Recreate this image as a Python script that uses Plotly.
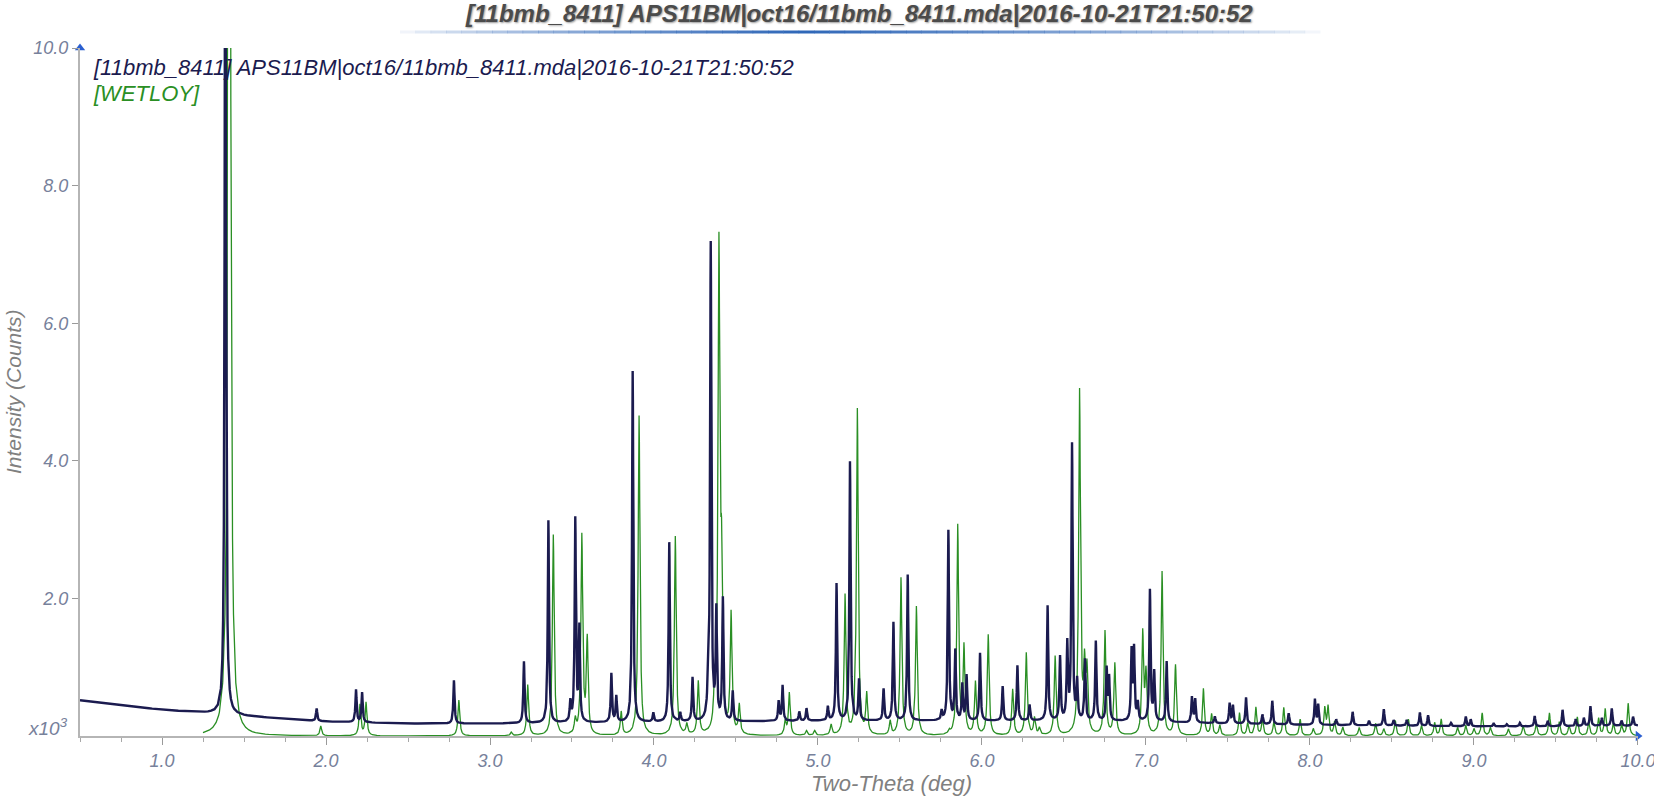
import numpy as np
import plotly.graph_objects as go

# ---------------- data (intensity in x10^3 counts) ----------------
obs_peak_pos = [1.386, 1.943, 2.183, 2.220, 2.780, 3.207, 3.356, 3.490, 3.520, 3.545,
                3.740, 3.770, 3.870, 3.996, 4.093, 4.160, 4.235, 4.330, 4.346, 4.380,
                4.420, 4.480, 4.760, 4.784, 4.886, 4.930, 5.060, 5.113, 5.195, 5.250,
                5.400, 5.460, 5.547, 5.754, 5.795, 5.837, 5.880, 5.906, 5.988, 6.126,
                6.216, 6.290, 6.400, 6.476, 6.520, 6.549, 6.580, 6.628, 6.694, 6.760,
                6.775, 6.912, 6.927, 6.950, 7.024, 7.050, 7.126, 7.280, 7.300, 7.420,
                7.510, 7.530, 7.610, 7.710, 7.770, 7.870, 8.030, 8.050, 8.160, 8.260,
                8.360, 8.450, 8.510, 8.590, 8.670, 8.720, 8.860, 8.950, 8.980, 9.120,
                9.200, 9.280, 9.370, 9.450, 9.540, 9.620, 9.670, 9.710, 9.780, 9.840,
                9.900, 9.970]
obs_peak_top = [14.0, 0.40, 0.67, 0.63, 0.81, 1.08, 3.13, 0.47, 3.14, 1.55,
                0.90, 0.57, 5.30, 0.33, 2.81, 0.33, 0.84, 0.70, 7.12, 1.78,
                1.98, 0.64, 0.50, 0.73, 0.35, 0.40, 0.42, 2.21, 3.98, 0.81,
                0.68, 1.65, 2.34, 0.35, 2.98, 1.23, 0.74, 0.87, 1.20, 0.72,
                1.02, 0.45, 1.89, 1.14, 1.31, 4.22, 0.77, 1.10, 1.37, 0.96,
                0.83, 1.21, 1.24, 0.46, 2.11, 0.91, 1.08, 0.56, 0.53, 0.28,
                0.47, 0.44, 0.56, 0.31, 0.51, 0.33, 0.53, 0.45, 0.24, 0.35,
                0.22, 0.39, 0.23, 0.23, 0.34, 0.30, 0.19, 0.28, 0.24, 0.18,
                0.17, 0.19, 0.29, 0.22, 0.38, 0.24, 0.26, 0.43, 0.26, 0.40,
                0.22, 0.28]

obs_bg_pos = [0.5, 0.7, 1.0, 1.3, 1.5, 1.8, 2.0, 2.5, 3.0, 3.5, 4.0, 4.5, 5.0,
              5.5, 6.0, 6.5, 7.0, 7.3, 7.5, 8.0, 8.5, 9.0, 9.5, 10.0]
obs_bg_val = [0.52, 0.46, 0.38, 0.33, 0.29, 0.24, 0.21, 0.18, 0.18, 0.19, 0.20, 0.21, 0.22,
              0.22, 0.22, 0.22, 0.21, 0.19, 0.18, 0.16, 0.15, 0.14, 0.14, 0.15]

calc_peak_pos = [1.410, 1.968, 2.207, 2.244, 2.810, 3.130, 3.230, 3.386, 3.520, 3.560,
                 3.593, 3.800, 3.909, 4.130, 4.200, 4.270, 4.370, 4.396, 4.412, 4.470,
                 4.520, 4.800, 4.825, 4.930, 4.980, 5.080, 5.165, 5.240, 5.297, 5.440,
                 5.506, 5.600, 5.800, 5.852, 5.890, 5.960, 6.038, 6.187, 6.270, 6.320,
                 6.350, 6.446, 6.595, 6.625, 6.640, 6.750, 6.810, 6.980, 7.000, 7.098,
                 7.180, 7.350, 7.400, 7.450, 7.570, 7.620, 7.670, 7.710, 7.780, 7.840,
                 7.940, 8.020, 8.090, 8.110, 8.150, 8.200, 8.300, 8.400, 8.450, 8.520,
                 8.600, 8.680, 8.760, 8.800, 8.900, 8.950, 9.000, 9.050, 9.100, 9.210,
                 9.300, 9.380, 9.460, 9.520, 9.580, 9.630, 9.700, 9.760, 9.800, 9.850,
                 9.900, 9.940]
calc_peak_top = [30.0, 0.14, 0.45, 0.48, 0.52, 0.05, 0.74, 2.92, 0.20, 2.89,
                 1.37, 0.34, 4.65, 2.89, 0.15, 0.77, 0.55, 6.97, 2.15, 1.74,
                 0.42, 0.20, 0.62, 0.07, 0.07, 0.15, 2.03, 4.74, 0.58, 0.20,
                 2.29, 1.87, 0.05, 3.04, 1.26, 0.77, 1.46, 0.67, 1.20, 0.25,
                 0.10, 1.15, 4.99, 0.90, 0.87, 1.51, 1.04, 1.47, 0.86, 2.38,
                 1.02, 0.68, 0.31, 0.15, 0.33, 0.18, 0.41, 0.24, 0.20, 0.41,
                 0.24, 0.10, 0.39, 0.41, 0.20, 0.12, 0.12, 0.18, 0.10, 0.22,
                 0.24, 0.15, 0.19, 0.24, 0.12, 0.15, 0.10, 0.33, 0.12, 0.10,
                 0.15, 0.18, 0.33, 0.20, 0.15, 0.27, 0.20, 0.25, 0.39, 0.18,
                 0.15, 0.47]
calc_start = 1.25

x_tick_vals = [1, 2, 3, 4, 5, 6, 7, 8, 9, 10]
x_tick_text = ["1.0", "2.0", "3.0", "4.0", "5.0", "6.0", "7.0", "8.0", "9.0", "10.0"]
y_tick_vals = [2, 4, 6, 8, 10]
y_tick_text = ["2.0", "4.0", "6.0", "8.0", "10.0"]

title_text = "[11bmb_8411] APS11BM|oct16/11bmb_8411.mda|2016-10-21T21:50:52"
obs_name = "[11bmb_8411] APS11BM|oct16/11bmb_8411.mda|2016-10-21T21:50:52"
calc_name = "[WETLOY]"

# ---------------- peak rendering ----------------
OBS_HWHM = 0.0045
CALC_HWHM = 0.0065
OFFS = np.array([-40, -20, -10, -6, -4, -3, -2, -1.5, -1, -0.6, -0.3, 0,
                 0.3, 0.6, 1, 1.5, 2, 3, 4, 6, 10, 20, 40], dtype=float)


def build(pos, top, g, xmin, xmax, base_x=None, base_y=None):
    pos = np.asarray(pos, float)
    top = np.asarray(top, float)
    xs = [p + OFFS * g for p in pos]
    xs.append(np.arange(xmin, xmax + 1e-9, 0.02))
    xs = np.unique(np.clip(np.concatenate(xs), xmin, xmax))
    if base_x is None:
        base = np.zeros_like(xs)
        base_at_peak = np.zeros_like(pos)
    else:
        base = np.interp(xs, base_x, base_y)
        base_at_peak = np.interp(pos, base_x, base_y)
    net = top - base_at_peak
    y = base.copy()
    for p, h in zip(pos, net):
        y += h / (1.0 + ((xs - p) / g) ** 2)
    return xs, y


ox, oy = build(obs_peak_pos, obs_peak_top, OBS_HWHM, 0.5, 10.0, obs_bg_pos, obs_bg_val)
cx, cy = build(calc_peak_pos, calc_peak_top, CALC_HWHM, calc_start, 10.0)

NAVY = "#1b1b4f"
GREEN = "#2a8f24"
FONT = "Liberation Sans, Arial, sans-serif"
TICKC = "#77819b"
GRAYT = "#808080"

fig = go.Figure()
fig.add_trace(go.Scatter(x=cx, y=cy, mode="lines", line=dict(color=GREEN, width=1.3),
                         showlegend=False, hoverinfo="skip"))
fig.add_trace(go.Scatter(x=ox, y=oy, mode="lines", line=dict(color=NAVY, width=2.4),
                         showlegend=False, hoverinfo="skip"))
# axis arrow heads
fig.add_trace(go.Scatter(x=[0.5], y=[10.0], mode="markers", cliponaxis=False,
                         marker=dict(symbol="triangle-up", size=9, color="#2b5fd0"),
                         showlegend=False, hoverinfo="skip"))
fig.add_trace(go.Scatter(x=[10.0], y=[0.0], mode="markers", cliponaxis=False,
                         marker=dict(symbol="triangle-right", size=9, color="#2b5fd0"),
                         showlegend=False, hoverinfo="skip"))

W, H = 1654, 797
PL, PR, PT, PB = 80, 1638, 48, 736          # plot area in page pixels
L, T = PL, PT
R = W - PR
B = H - PB
PW, PH = PR - PL, PB - PT


def px(xp):
    return (xp - PL) / PW


def py(yp):
    return 1 + (PT - yp) / PH


fig.update_layout(
    width=W, height=H, autosize=False, margin=dict(l=L, r=R, t=T, b=B, autoexpand=False),
    paper_bgcolor="white", plot_bgcolor="white",
    font=dict(family=FONT),
    xaxis=dict(range=[0.5, 10.0001], showgrid=False, zeroline=False, automargin=False,
               showline=True, linecolor="#b5b5b5", linewidth=2,
               ticks="outside", ticklen=7, tickwidth=1, tickcolor="#9a9a9a",
               tickvals=x_tick_vals, ticktext=x_tick_text, ticklabeloverflow="allow",
               tickfont=dict(family=FONT, size=18, color=TICKC, style="italic"),
               minor=dict(ticks="outside", ticklen=4, tickcolor="#a8a8a8", dtick=0.25,
                          tick0=0.5, showgrid=False)),
    yaxis=dict(range=[0, 10.0], showgrid=False, zeroline=False, automargin=False,
               showline=True, linecolor="#b5b5b5", linewidth=2,
               ticks="outside", ticklen=6, tickwidth=1, tickcolor="#9a9a9a",
               tickvals=y_tick_vals, ticktext=y_tick_text,
               tickfont=dict(family=FONT, size=18, color=TICKC, style="italic")),
)

ann = []
ann.append(dict(text=title_text, xref="paper", yref="paper", x=0.5, y=py(14),
                xanchor="center", yanchor="middle", showarrow=False,
                font=dict(family=FONT, size=24, color="#4b4b4b", weight="bold",
                          style="italic", shadow="1px 1px 2px #9a9a9a")))
ann.append(dict(text=obs_name, xref="paper", yref="paper", x=px(91), y=py(67),
                xanchor="left", yanchor="middle", showarrow=False,
                font=dict(family=FONT, size=22, color=NAVY, style="italic")))
ann.append(dict(text=calc_name, xref="paper", yref="paper", x=px(91), y=py(93),
                xanchor="left", yanchor="middle", showarrow=False,
                font=dict(family=FONT, size=22, color=GREEN, style="italic")))
ann.append(dict(text="Intensity (Counts)", xref="paper", yref="paper", x=px(13), y=0.5,
                xanchor="center", yanchor="middle", textangle=-90, showarrow=False,
                font=dict(family=FONT, size=21, color=GRAYT, style="italic")))
ann.append(dict(text="Two-Theta (deg)", xref="paper", yref="paper", x=px(891), y=py(784),
                xanchor="center", yanchor="middle", showarrow=False,
                font=dict(family=FONT, size=22, color=GRAYT, style="italic")))
ann.append(dict(text="x10<sup>3</sup>", xref="paper", yref="paper", x=px(70), y=py(727),
                xanchor="right", yanchor="middle", showarrow=False,
                font=dict(family=FONT, size=19, color=TICKC, style="italic")))
fig.update_layout(annotations=ann)

# gradient rule under the title
shapes = []
x0p, x1p, peakp = 400, 1320, 800
n = 60
edges = np.linspace(x0p, x1p, n + 1)
for i in range(n):
    a, b = edges[i], edges[i + 1]
    mid = 0.5 * (a + b)
    if mid < peakp:
        op = (mid - x0p) / (peakp - x0p)
    else:
        op = 1 - (mid - peakp) / (x1p - peakp)
    op = max(0.0, min(1.0, op)) ** 0.7
    shapes.append(dict(type="line", xref="paper", yref="paper", x0=px(a), x1=px(b) + 0.0003,
                       y0=py(32), y1=py(32), line=dict(color="#2f67b8", width=3),
                       opacity=op))
fig.update_layout(shapes=shapes)

fig.write_html("out.html",
               config={"responsive": False, "displayModeBar": False},
               post_script="document.body.style.margin='0px';"
                           "document.body.style.overflow='hidden';"
                           "document.documentElement.style.overflow='hidden';")
